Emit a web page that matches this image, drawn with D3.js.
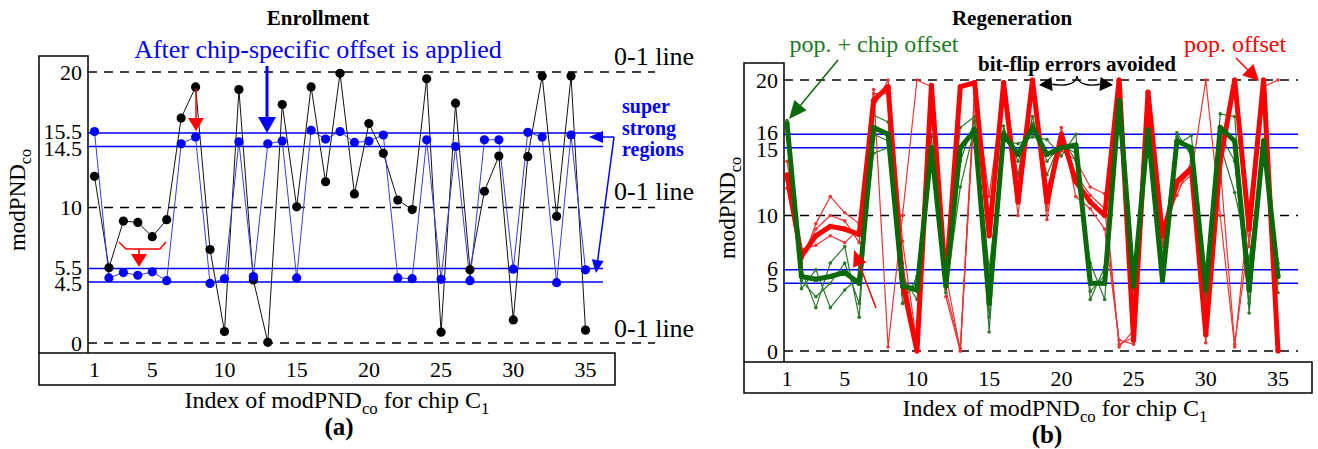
<!DOCTYPE html>
<html>
<head>
<meta charset="utf-8">
<script src="https://cdn.jsdelivr.net/npm/d3@7"></script>
<style>
  body { margin: 0; background: #fff; }
  svg { font-family: "Liberation Serif", "Times New Roman", serif; }
</style>
</head>
<body>
<div id="chart"></div>
<script>
// ---- data ----
const chipIndex = [1,2,3,4,5,6,7,8,9,10,11,12,13,14,15,16,17,18,19,20,21,22,23,24,25,26,27,28,29,30,31,32,33,34,35];
const xTickValues = [1, 5, 10, 15, 20, 25, 30, 35];

// (a) enrollment
const enrollTicks = [0, 4.5, 5.5, 10, 14.5, 15.5, 20];
const enrollStrong = [4.5, 5.5, 14.5, 15.5];
const enrollRaw = [12.3, 5.55, 9.0, 8.9, 7.85, 9.1, 16.6, 18.9, 6.9, 0.85, 18.7, 4.65, 0.05, 17.6, 10.05,
  18.9, 11.9, 19.9, 11.0, 16.2, 14.0, 10.55, 9.85, 19.5, 0.8, 17.7, 5.4, 11.2, 13.8, 1.7,
  13.75, 19.7, 9.35, 19.7, 0.95];
const enrollOffset = [15.6, 4.8, 5.2, 5.0, 5.25, 4.6, 14.7, 15.2, 4.4, 4.75, 14.85, 4.9, 14.7, 14.9, 4.8,
  15.7, 15.05, 15.6, 14.8, 14.9, 15.35, 4.8, 4.75, 15.0, 4.7, 14.5, 4.6, 15.0, 15.0, 5.45,
  15.55, 15.2, 4.45, 15.35, 5.4];

// (b) regeneration
const regenTicks = [0, 5, 6, 10, 15, 16, 20];
const regenStrong = [5, 6, 15, 16];
const zeroOneLines = [0, 10, 20];
const popMain = [13, 7, 8.5, 9.2, 9, 8.6, 18.5, 19.5, 5, 0, 19.6, 5, 19.5, 19.8, 8.5, 19.8, 11, 20,
  11, 16, 12.5, 11, 10, 20, 0.8, 19.1, 8.5, 12.5, 13.5, 1.2, 14, 20, 9, 20, 0];
const popTrialB = [12, 6.5, 9.4, 11.4, 10.2, 9.4, 19.3, 0.3, 10, 20, 19.5, 4, 0, 19.5, 11.4, 19.5, 12.9, 20,
  12.1, 14.8, 14.1, 12.1, 11.6, 0.3, 1.5, 19, 7.7, 12, 13, 20, 10, 0.3, 10.6, 19.5, 20];
const popTrialC = [14, 7.5, 7.8, 8.5, 8, 9, 18, 20, 8.1, 0.5, 18.8, 5.7, 0, 18.5, 9.5, 19, 10, 19.5,
  9.7, 16.5, 11.4, 10.5, 9, 0.8, 0.5, 18.5, 9, 11.5, 14, 0.6, 14.6, 19.5, 7.7, 19, 0.5];
const popTrialD = [12.6, 6.8, 9, 10, 9.6, 8, 19, 19, 6.5, 0.2, 19.2, 4.5, 0.2, 19, 9, 19.4, 11.8, 19.8,
  10.4, 15.4, 13, 11.5, 10.5, 0.5, 1, 18.8, 8, 12.2, 13.2, 2.4, 13.6, 0.5, 8.5, 19.6, 0.3];
const chipMain = [16.8, 5.5, 5.3, 5.5, 5.8, 5, 16.5, 16, 4.8, 4.5, 15, 4.8, 15, 16.3, 3.5, 16, 14.5, 16.5,
  14.5, 15, 15.2, 5, 5, 18.5, 4.8, 16.3, 5.2, 15.5, 15, 4.5, 16.5, 15.5, 4.5, 15.5, 5.5];
const chipTrialB = [16, 6, 3.2, 6.5, 7.7, 2.5, 17.4, 16.9, 3.5, 5.5, 15.8, 6, 16.5, 17.3, 1.4, 16.6, 13, 17.3,
  13, 15.6, 14.1, 6.5, 3.8, 18, 4.5, 16.8, 7, 16.1, 14.4, 3.5, 17.5, 17.3, 2.8, 15.6, 6.5];
const chipTrialC = [17, 4.6, 6, 3.2, 4.5, 5.5, 14.6, 15, 5.5, 3.8, 14.1, 4.3, 12.1, 16.5, 6, 15.5, 15.3, 15.8,
  15.6, 14.4, 16, 3.8, 6.2, 17.5, 5.5, 15.5, 6, 15.2, 15.9, 5.5, 15.2, 11.7, 6.7, 15, 4.3];
const chipTrialD = [16.4, 5.2, 4, 5, 6.5, 3.5, 16, 15.5, 4.2, 5, 14.6, 5.4, 14, 17, 2.5, 16.2, 14, 16.8,
  14, 15.2, 14.6, 4.4, 5.6, 18.2, 5, 16, 5.6, 15.8, 14.6, 4, 16, 14, 3.5, 15.2, 5];

const svg = d3.select("#chart").append("svg")
  .attr("width", 1318)
  .attr("height", 449);

function arrow(g, x1, y1, x2, y2, color, width, len, half) {
  const a = Math.atan2(y2 - y1, x2 - x1);
  const bx = x2 - len * Math.cos(a), by = y2 - len * Math.sin(a);
  g.append("line").attr("x1", x1).attr("y1", y1).attr("x2", bx).attr("y2", by)
    .attr("stroke", color).attr("stroke-width", width);
  const px = -Math.sin(a) * half, py = Math.cos(a) * half;
  g.append("polygon")
    .attr("points", [[x2, y2], [bx + px, by + py], [bx - px, by - py]].map(p => p.join(",")).join(" "))
    .attr("fill", color);
}

function modLabel(sel, main, sub, size) {
  sel.append("tspan").text(main);
  sel.append("tspan").attr("font-size", size * 0.7).attr("dy", size * 0.25).text(sub);
}

// frames, ticks and guide lines shared by both panels
function drawFrame(p) {
  const g = svg.append("g");
  // y box and x box
  g.append("path")
    .attr("d", `M${p.boxLeft},${p.boxBottom} V${p.boxTop} H${p.axisX} V${p.boxBottom}`)
    .attr("fill", "none").attr("stroke", "#000").attr("stroke-width", 1.5);
  g.append("rect")
    .attr("x", p.boxLeft).attr("y", p.boxBottom)
    .attr("width", p.boxRight - p.boxLeft).attr("height", p.xBoxH)
    .attr("fill", "none").attr("stroke", "#000").attr("stroke-width", 1.5);

  g.selectAll(".dash").data(zeroOneLines).enter().append("line")
    .attr("x1", p.axisX).attr("x2", p.dashEnd)
    .attr("y1", d => p.y(d)).attr("y2", d => p.y(d))
    .attr("stroke", "#000").attr("stroke-width", 1.3).attr("stroke-dasharray", "9,7");

  g.selectAll(".strong").data(p.strong).enter().append("line")
    .attr("x1", p.axisX).attr("x2", p.strongEnd)
    .attr("y1", d => p.y(d)).attr("y2", d => p.y(d))
    .attr("stroke", "#0000ff").attr("stroke-width", 1.6);

  // paired labels (e.g. 14.5 / 15.5) sit very close: nudge them apart a little
  const nudge = d => p.strong.includes(d) ? (p.strong.indexOf(d) % 2 === 0 ? 1.5 : -1.5) : 0;
  g.selectAll(".ytick").data(p.ticks).enter().append("text")
    .attr("x", p.axisX - 6).attr("y", d => p.y(d) + nudge(d)).attr("dy", "0.35em")
    .attr("text-anchor", "end").attr("font-size", 22)
    .text(d => d);

  g.selectAll(".xtick").data(xTickValues).enter().append("text")
    .attr("x", d => p.x(d)).attr("y", p.boxBottom + 24)
    .attr("text-anchor", "middle").attr("font-size", 22)
    .text(d => d);

  const xl = g.append("text").attr("x", p.xLabelX).attr("y", p.boxBottom + p.xBoxH + 23)
    .attr("text-anchor", "middle").attr("font-size", 24);
  modLabel(xl, "Index of modPND", "co", 24);
  xl.append("tspan").attr("dy", -24 * 0.25).text(" for chip C");
  xl.append("tspan").attr("font-size", 24 * 0.7).attr("dy", 24 * 0.25).text("1");

  g.append("text").attr("x", p.tagX).attr("y", p.boxBottom + p.xBoxH + 50)
    .attr("text-anchor", "middle").attr("font-size", 25).attr("font-weight", "bold")
    .text(p.tag);

  const yl = g.append("text")
    .attr("transform", `translate(${p.yLabelX},${p.yLabelY}) rotate(-90)`)
    .attr("text-anchor", "middle").attr("font-size", 23);
  modLabel(yl, "modPND", "co", 23);

  g.append("text").attr("x", p.titleX).attr("y", 25)
    .attr("text-anchor", "middle").attr("font-size", 21).attr("font-weight", "bold")
    .text(p.title);
  return g;
}

// ---- (a) Enrollment ----
const xA = d3.scaleLinear().domain([1, 35]).range([94.5, 585.5]);
const yA = d3.scaleLinear().domain([0, 20]).range([343, 72]);
const gA = drawFrame({
  x: xA, y: yA, ticks: enrollTicks, strong: enrollStrong,
  boxLeft: 39, boxTop: 56, axisX: 88, boxBottom: 353, boxRight: 615, xBoxH: 32,
  dashEnd: 655, strongEnd: 603, xLabelX: 337, tagX: 339, yLabelX: 25, yLabelY: 200,
  titleX: 318, title: "Enrollment", tag: "(a)"
});

const lineA = d3.line().x((d, i) => xA(chipIndex[i])).y(d => yA(d));
gA.append("path").attr("d", lineA(enrollRaw))
  .attr("fill", "none").attr("stroke", "#111").attr("stroke-width", 1);
gA.append("path").attr("d", lineA(enrollOffset))
  .attr("fill", "none").attr("stroke", "#3b3bd6").attr("stroke-width", 1);
gA.selectAll(".raw").data(enrollRaw).enter().append("circle")
  .attr("cx", (d, i) => xA(chipIndex[i])).attr("cy", d => yA(d)).attr("r", 4.6).attr("fill", "#000");
gA.selectAll(".off").data(enrollOffset).enter().append("circle")
  .attr("cx", (d, i) => xA(chipIndex[i])).attr("cy", d => yA(d)).attr("r", 4.6).attr("fill", "#0000ff");

// annotations (a)
gA.append("text").attr("x", 318).attr("y", 58).attr("text-anchor", "middle")
  .attr("font-size", 26).attr("fill", "#0000ff").text("After chip-specific offset is applied");
arrow(gA, 267, 66, 267, 133, "#0000ff", 3, 16, 9);
arrow(gA, 196, 89, 196, 131, "#ff0000", 1.5, 13, 8);
gA.append("polyline").attr("points", "119,242 126,249 160,249 166,242")
  .attr("fill", "none").attr("stroke", "#ff0000").attr("stroke-width", 1.5);
arrow(gA, 139, 249, 139, 267, "#ff0000", 1.5, 13, 8);
["0-1 line", "0-1 line", "0-1 line"].forEach((t, i) => {
  gA.append("text").attr("x", 614).attr("y", [65, 200, 337][i])
    .attr("font-size", 26).text(t);
});
["super", "strong", "regions"].forEach((t, i) => {
  gA.append("text").attr("x", 622).attr("y", 113 + i * 21.5)
    .attr("font-size", 20).attr("font-weight", "bold").attr("fill", "#0000ff").text(t);
});
arrow(gA, 614, 137, 589, 137, "#0000ff", 1.5, 14, 6);
arrow(gA, 614, 137, 596, 273, "#0000ff", 1.5, 13, 6);

// ---- (b) Regeneration ----
const xB = d3.scaleLinear().domain([1, 35]).range([787, 1278]);
const yB = d3.scaleLinear().domain([0, 20]).range([351, 80]);
const gB = drawFrame({
  x: xB, y: yB, ticks: regenTicks, strong: regenStrong,
  boxLeft: 744, boxTop: 63, axisX: 784, boxBottom: 362, boxRight: 1312, xBoxH: 31,
  dashEnd: 1298, strongEnd: 1298, xLabelX: 1055, tagX: 1047, yLabelX: 735, yLabelY: 208,
  titleX: 1012, title: "Regeneration", tag: "(b)"
});

const lineB = d3.line().x((d, i) => xB(chipIndex[i])).y(d => yB(d));
const trials = [
  { v: popTrialB, c: "#ee3333", w: 1.2 },
  { v: popTrialC, c: "#ee3333", w: 1.2 },
  { v: popTrialD, c: "#ee3333", w: 1.2 },
  { v: chipTrialB, c: "#2a7a2a", w: 1.2 },
  { v: chipTrialC, c: "#2a7a2a", w: 1.2 },
  { v: chipTrialD, c: "#2a7a2a", w: 1.2 },
  { v: popMain, c: "#ff0000", w: 5 },
  { v: chipMain, c: "#0a6a0a", w: 5 }
];
trials.forEach(t => {
  gB.append("path").attr("d", lineB(t.v))
    .attr("fill", "none").attr("stroke", t.c).attr("stroke-width", t.w)
    .attr("stroke-linejoin", "round");
  gB.selectAll(null).data(t.v).enter().append("circle")
    .attr("cx", (d, i) => xB(chipIndex[i])).attr("cy", d => yB(d))
    .attr("r", t.w > 2 ? 2.6 : 1.8).attr("fill", t.c);
});

// annotations (b)
gB.append("text").attr("x", 874).attr("y", 52).attr("text-anchor", "middle")
  .attr("font-size", 24).attr("fill", "#1f7a1f").text("pop. + chip offset");
arrow(gB, 838, 60, 789, 119, "#0a6a0a", 1.5, 18, 8);
gB.append("text").attr("x", 1235).attr("y", 52).attr("text-anchor", "middle")
  .attr("font-size", 24).attr("fill", "#ff0000").text("pop. offset");
arrow(gB, 1236, 58, 1259, 81, "#ff0000", 1.5, 16, 8);
gB.append("text").attr("x", 1077).attr("y", 71).attr("text-anchor", "middle")
  .attr("font-size", 21).attr("font-weight", "bold").text("bit-flip errors avoided");
gB.append("path").attr("d", "M1077,76 C1076,86 1062,86 1050,84")
  .attr("fill", "none").attr("stroke", "#000").attr("stroke-width", 1.3);
gB.append("path").attr("d", "M1077,76 C1078,86 1092,86 1102,84")
  .attr("fill", "none").attr("stroke", "#000").attr("stroke-width", 1.3);
arrow(gB, 1052, 84, 1039, 85, "#000", 1.3, 13, 7);
arrow(gB, 1100, 84, 1113, 85, "#000", 1.3, 13, 7);
arrow(gB, 876, 308, 854, 250, "#ff0000", 1.5, 16, 7);
</script>
</body>
</html>
